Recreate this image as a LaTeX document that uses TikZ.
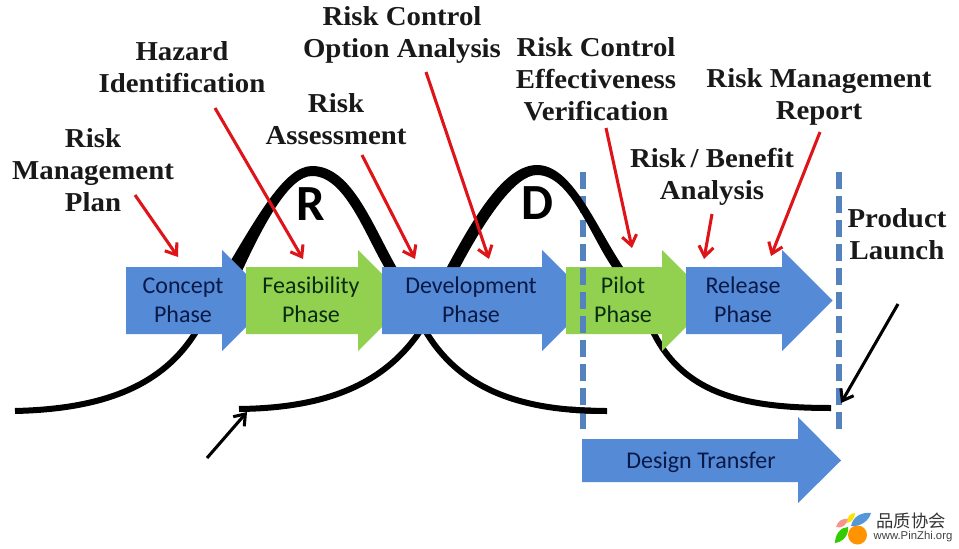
\documentclass[tikz,border=0pt]{standalone}
\usepackage{fontspec}
\usepackage{tikz}
\usetikzlibrary{arrows.meta,positioning}
\setmainfont{Liberation Serif}
\newfontfamily\labelfont[FakeStretch=1.055]{Liberation Serif}
\newfontfamily\phasefont{Carlito}
\newfontfamily\logofont{Noto Sans CJK SC}
\newfontfamily\urlfont{Liberation Sans}
\definecolor{phaseblue}{RGB}{85,138,214}
\definecolor{phasegreen}{RGB}{146,208,80}
\definecolor{dashblue}{RGB}{84,130,190}
\definecolor{riskred}{RGB}{222,20,24}
\definecolor{navytext}{RGB}{10,25,70}
\definecolor{leaftext}{RGB}{10,45,15}
\tikzset{
  risklabel/.style={font=\labelfont\fontsize{20.5}{24}\selectfont\bfseries,align=center,text=black!90},
  phaselabel/.style={font=\phasefont\fontsize{18}{21.5}\selectfont,align=center},
  riskarrow/.style={riskred,line width=2.3pt,-{Straight Barb[length=7.5pt,width=11pt,line width=2.3pt]}},
  launcharrow/.style={black,line width=2.3pt,-{Straight Barb[length=7.5pt,width=11pt,line width=2.3pt]}},
  bellcurve/.style={black,line width=4.5pt},
  gatedash/.style={dashblue,line width=4.5pt,dash pattern=on 13pt off 5pt},
  bigletter/.style={font=\phasefont\bfseries\fontsize{38}{38}\selectfont},
}
\newcommand{\phasearrow}[7]{%
  \pgfmathsetmacro{\pTip}{#5+50.5}%
  \fill[#2] (#4,267) -- (#5,267) -- (#5,250) -- (\pTip,300.5) -- (#5,351) -- (#5,334) -- (#4,334) -- cycle;%
  \node (#1) [phaselabel,text=#3] at (#6,300) {#7};%
}
\begin{document}
\begin{tikzpicture}[x=0.75pt,y=-0.75pt]
  \useasboundingbox (0,0) rectangle (959,549);
  % tails and the first bell
  \draw[bellcurve] (15,411) .. controls (100,409) and (165,388) .. (200,325);
  \draw[bellcurve] (239,409) .. controls (320,408) and (385,388) .. (424,325);
  \draw[bellcurve] (422,325) .. controls (460,395) and (530,411) .. (607,411);
  \draw[bellcurve] (650,325) .. controls (680,395) and (745,408) .. (831,408);
  \fill[black] (224,272) .. controls (258,215) and (285,166) .. (312,166)
    .. controls (352,166) and (372,225) .. (398,270) -- (386,270)
    .. controls (365,235) and (345,176) .. (312,176)
    .. controls (290,176) and (265,220) .. (238,280) -- cycle;
  \node (letterR) [bigletter] at (311,204) {R};
  % phases
  \phasearrow{conceptPhase}{phaseblue}{navytext}{126}{222}{183}{Concept\\Phase}
  \phasearrow{feasibilityPhase}{phasegreen}{leaftext}{246}{358}{311}{Feasibility\\Phase}
  \phasearrow{developmentPhase}{phaseblue}{navytext}{382}{542}{471}{Development\\Phase}
  \phasearrow{pilotPhase}{phasegreen}{leaftext}{566}{662}{623}{Pilot\\Phase}
  \phasearrow{releasePhase}{phaseblue}{navytext}{686}{782}{743}{Release\\Phase}
  \fill[phaseblue] (582,439) -- (798,439) -- (798,417) -- (841,460.5) -- (798,503) -- (798,482) -- (582,482) -- cycle;
  \node (transferPhase) [phaselabel,text=navytext] at (701,462) {Design Transfer};
  % gates
  \draw[gatedash] (583,172) -- (583,430);
  \draw[gatedash] (839,172) -- (839,430);
  % these two cross the gate on top of it
  \begin{scope}
    \clip (570,395) rectangle (596,425);
    \draw[bellcurve] (422,325) .. controls (460,395) and (530,411) .. (607,411);
  \end{scope}
  \fill[black] (447,267) .. controls (475,215) and (505,165) .. (537,165)
    .. controls (572,165) and (595,225) .. (623,267) -- (612,267)
    .. controls (590,235) and (570,175) .. (537,175)
    .. controls (515,175) and (485,220) .. (460,267) -- cycle;
  \node (letterD) [bigletter] at (537,203) {D};
  % labels
  \node (planLabel) [risklabel] at (93,170) {Risk\\Management\\Plan};
  \node (hazardLabel) [risklabel] at (182,67) {Hazard\\Identification};
  \node (assessLabel) [risklabel] at (336,119) {Risk\\Assessment};
  \node (optionLabel) [risklabel] at (402,35) {Risk Control\\Option Analysis};
  \node (verifyLabel) [risklabel] at (596,79) {Risk Control\\Effectiveness\\Verification};
  \node (benefitLabel) [risklabel] at (712,177) {Risk\,/ Benefit\\Analysis};
  \node (reportLabel) [risklabel] at (819,97) {Risk Management\\Report};
  \node (launchLabel) [risklabel] at (897,234) {Product\\Launch};
  % arrow ends
  \coordinate (planTail) at (135,195);      \coordinate (planTip) at (178,257);
  \coordinate (hazardTail) at (215,108);    \coordinate (hazardTip) at (303,259);
  \coordinate (assessTail) at (362,155);    \coordinate (assessTip) at (415,259);
  \coordinate (optionTail) at (426,72);     \coordinate (optionTip) at (489,259);
  \coordinate (verifyTail) at (606,128);    \coordinate (verifyTip) at (632,248);
  \coordinate (benefitTail) at (712,214);   \coordinate (benefitTip) at (704,259);
  \coordinate (reportTail) at (820,132);    \coordinate (reportTip) at (771,256);
  \coordinate (startTail) at (207,458);     \coordinate (startTip) at (247,412);
  \coordinate (launchTail) at (898,304);    \coordinate (launchTip) at (841,403);
  \foreach \a in {plan,hazard,assess,option,verify,benefit,report}
    \draw[riskarrow] (\a Tail) -- (\a Tip);
  \foreach \a in {start,launch}
    \draw[launcharrow] (\a Tail) -- (\a Tip);
  % logo
  \fill[orange!85!yellow] (857.5,535) circle (9.5);
  \fill[cyan!60!blue!70] (851,526) .. controls (853,516) and (862,512) .. (871,513) .. controls (869,521) and (860,527) .. (851,526) -- cycle;
  \fill[yellow!85!orange] (847,523) .. controls (847,516) and (851,513) .. (855,513) .. controls (855,518) and (852,522) .. (847,523) -- cycle;
  \fill[magenta!40!orange!60] (836,527) .. controls (838,521) and (842,518) .. (848,519) .. controls (847,525) and (841,529) .. (836,527) -- cycle;
  \fill[green!60!olive] (835,543) .. controls (835,534) and (841,527) .. (848,527) .. controls (849,535) and (843,542) .. (835,543) -- cycle;
  \node (logoName) [font=\logofont\fontsize{13}{13}\selectfont,text=black!80] at (911,521) {品质协会};
  \node (logoUrl) [font=\urlfont\fontsize{8.5}{9}\selectfont,text=black!75] at (913,537) {www.PinZhi.org};
\end{tikzpicture}
\end{document}
